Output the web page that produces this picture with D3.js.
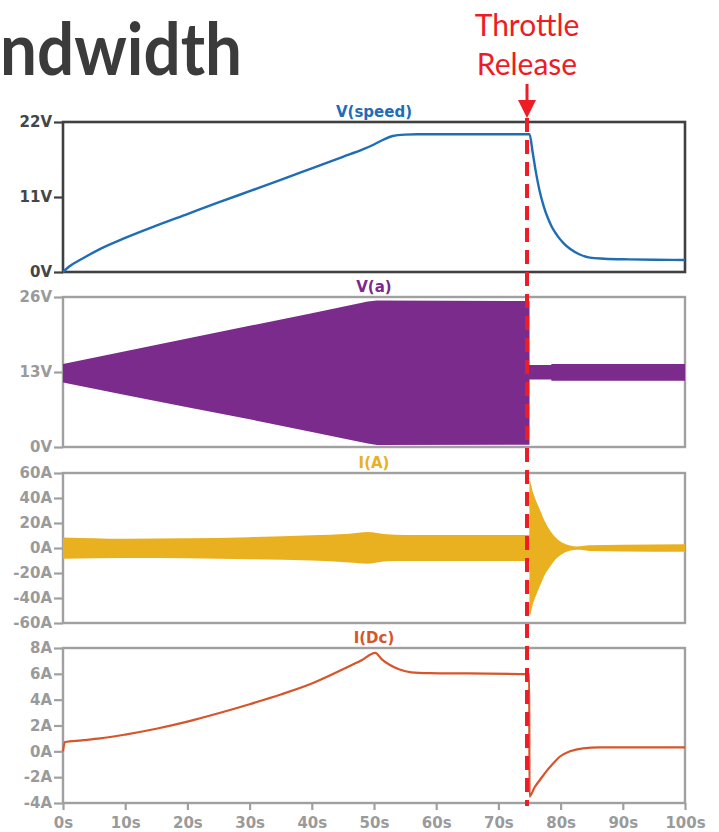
<!DOCTYPE html>
<html>
<head>
<meta charset="utf-8">
<script src="https://cdn.jsdelivr.net/npm/d3@7"></script>
<style>
  body { margin: 0; background: #ffffff; }
  svg text { font-family: "DejaVu Sans", Verdana, sans-serif; }
</style>
</head>
<body>
<svg id="chart" width="719" height="832"></svg>
<script>
// ---- data -------------------------------------------------------------
const timeTicks = [0, 10, 20, 30, 40, 50, 60, 70, 80, 90, 100];
const timeTickLabels = ["0s", "10s", "20s", "30s", "40s", "50s", "60s", "70s", "80s", "90s", "100s"];
const releaseTime = 74.6;

// V(speed)
const speedT = [0, 1, 3, 6, 10, 15, 20, 25, 30, 35, 40, 45, 48, 50, 51.5, 53, 55, 57, 75,
                75.5, 76, 76.6, 77.3, 78, 78.6, 79.5, 80.5, 81.5, 83, 84.7, 87, 91, 95, 100];
const speedV = [0, 0.8, 1.9, 3.4, 5.0, 6.8, 8.5, 10.2, 11.85, 13.5, 15.2, 16.9, 17.9, 18.7, 19.4, 19.95, 20.15, 20.2, 20.2,
                17.6, 14.8, 12.0, 9.6, 7.8, 6.6, 5.3, 4.2, 3.4, 2.6, 2.1, 1.95, 1.85, 1.8, 1.75];
const speedTicks = [0, 11, 22];
const speedTickLabels = ["0V", "11V", "22V"];

// V(a) envelope
const vaT  = [0, 10, 20, 30, 40, 49, 50.5, 75, 75.01, 78.5, 78.51, 100];
const vaHi = [14.4, 16.6, 18.8, 21.0, 23.2, 25.2, 25.4, 25.3, 14.2, 14.2, 14.4, 14.4];
const vaLo = [11.2, 9.0, 6.9, 4.8, 2.6, 0.6, 0.35, 0.4, 11.7, 11.7, 11.5, 11.5];
const vaTicks = [0, 13, 26];
const vaTickLabels = ["0V", "13V", "26V"];

// I(A) envelope
const iaT  = [0, 10, 20, 30, 40, 46, 49, 52, 55, 74.99, 75, 75.6, 76.2, 76.8, 77.5, 78.3, 79.2, 80.4, 81.5, 82.6, 83.5, 84.7, 90, 100];
const iaHi = [8.5, 7.5, 7.8, 8.7, 10.2, 11.5, 12.8, 11.0, 10.4, 10.4, 54, 44, 36, 29, 21, 14, 8.5, 4.0, 2.0, 1.2, 1.6, 2.2, 2.6, 3.0];
const iaLo = [-8.5, -8.0, -8.2, -9.0, -10.0, -11.5, -12.5, -10.5, -10.4, -10.4, -54, -44, -36, -29, -21, -15, -9, -4.3, -2.2, -1.3, -1.6, -2.3, -2.7, -3.0];
const iaTicks = [-60, -40, -20, 0, 20, 40, 60];
const iaTickLabels = ["-60A", "-40A", "-20A", "0A", "20A", "40A", "60A"];

// I(Dc)
const idcT = [0, 0.3, 3, 6, 10, 15, 20, 25, 30, 35, 40, 45, 48, 50.2, 51.3, 52.5, 54, 56, 59, 65, 74.95,
              75.0, 75.8, 76.7, 77.7, 78.8, 79.9, 81.5, 83.6, 86.3, 90, 100];
const idcV = [0, 0.72, 0.85, 1.0, 1.3, 1.75, 2.3, 2.95, 3.65, 4.4, 5.25, 6.35, 7.05, 7.63, 7.1, 6.7, 6.35, 6.12, 6.06, 6.03, 5.98,
              -3.5, -2.8, -2.2, -1.55, -0.95, -0.4, 0.0, 0.23, 0.3, 0.3, 0.3];
const idcTicks = [-4, -2, 0, 2, 4, 6, 8];
const idcTickLabels = ["-4A", "-2A", "0A", "2A", "4A", "6A", "8A"];

// ---- layout -------------------------------------------------------------
const svg = d3.select("#chart");
const x = d3.scaleLinear().domain([0, 100]).range([63, 685]);

const panels = [
  { title: "V(speed)", color: "#1f6db4", frame: "#404040", label: "#454545", top: 122, bottom: 272,
    domain: [0, 22], ticks: speedTicks, labels: speedTickLabels },
  { title: "V(a)", color: "#7b2b8b", frame: "#a0a0a0", label: "#9a9a9a", top: 297, bottom: 447,
    domain: [0, 26], ticks: vaTicks, labels: vaTickLabels },
  { title: "I(A)", color: "#e9b020", frame: "#a0a0a0", label: "#9a9a9a", top: 473, bottom: 623,
    domain: [-60, 60], ticks: iaTicks, labels: iaTickLabels },
  { title: "I(Dc)", color: "#d6552a", frame: "#a0a0a0", label: "#9a9a9a", top: 648, bottom: 803,
    domain: [-4, 8], ticks: idcTicks, labels: idcTickLabels }
];

panels.forEach(p => {
  p.y = d3.scaleLinear().domain(p.domain).range([p.bottom, p.top]);
});

// heading fragment
svg.append("text")
  .attr("x", 0).attr("y", 75)
  .attr("textLength", 242)
  .attr("lengthAdjust", "spacingAndGlyphs")
  .style("font-family", "Lato, 'Open Sans', sans-serif")
  .style("font-weight", 700)
  .style("font-size", "72px")
  .attr("fill", "#3b3b3b")
  .text("ndwidth");

// plot frames, axes and titles
const tickFont = "'DejaVu Sans', Verdana, sans-serif";
panels.forEach((p, i) => {
  const g = svg.append("g");

  const axis = d3.axisLeft(p.y)
    .tickValues(p.ticks)
    .tickFormat((d, k) => p.labels[k])
    .tickSize(9).tickPadding(2);
  const ag = g.append("g").attr("transform", `translate(${x(0)},0)`).call(axis);
  ag.select(".domain").remove();
  ag.selectAll(".tick line").attr("stroke", p.frame).attr("stroke-width", 2.2);
  ag.selectAll(".tick text")
    .attr("fill", p.label)
    .style("font-size", "15px")
    .style("font-weight", 700)
    .style("font-family", tickFont);

  g.append("rect")
    .attr("x", x(0)).attr("y", p.top)
    .attr("width", x(100) - x(0)).attr("height", p.bottom - p.top)
    .attr("fill", "none")
    .attr("stroke", p.frame)
    .attr("stroke-width", i === 0 ? 2.6 : 2.4);

  g.append("text")
    .attr("x", (x(0) + x(100)) / 2).attr("y", p.top - 5)
    .attr("text-anchor", "middle")
    .attr("fill", p.color)
    .style("font-size", "15px")
    .style("font-weight", 700)
    .text(p.title);
});

// time axis under the last panel
const last = panels[3];
const xAxis = d3.axisBottom(x)
  .tickValues(timeTicks)
  .tickFormat((d, k) => timeTickLabels[k])
  .tickSize(7).tickPadding(7);
const xg = svg.append("g").attr("transform", `translate(0,${last.bottom})`).call(xAxis);
xg.select(".domain").remove();
xg.selectAll(".tick line").attr("stroke", "#a0a0a0").attr("stroke-width", 2.2);
xg.selectAll(".tick text")
  .attr("fill", "#9a9a9a")
  .style("font-size", "15px")
  .style("font-weight", 700)
  .style("font-family", tickFont);

// ---- traces ------------------------------------------------------------
const P0 = panels[0], P1 = panels[1], P2 = panels[2], P3 = panels[3];

svg.append("path")
  .datum(d3.zip(speedT, speedV))
  .attr("fill", "none")
  .attr("stroke", P0.color)
  .attr("stroke-width", 2.4)
  .attr("stroke-linejoin", "round")
  .attr("d", d3.line().curve(d3.curveMonotoneX).x(d => x(d[0])).y(d => P0.y(d[1])));

svg.append("path")
  .datum(d3.zip(vaT, vaHi, vaLo))
  .attr("fill", P1.color)
  .attr("d", d3.area().x(d => x(d[0])).y0(d => P1.y(d[2])).y1(d => P1.y(d[1])));

svg.append("path")
  .datum(d3.zip(iaT, iaHi, iaLo))
  .attr("fill", P2.color)
  .attr("d", d3.area().curve(d3.curveMonotoneX).x(d => x(d[0])).y0(d => P2.y(d[2])).y1(d => P2.y(d[1])));

svg.append("path")
  .datum(d3.zip(idcT, idcV))
  .attr("fill", "none")
  .attr("stroke", P3.color)
  .attr("stroke-width", 2.2)
  .attr("stroke-linejoin", "round")
  .attr("d", d3.line().curve(d3.curveMonotoneX).x(d => x(d[0])).y(d => P3.y(d[1])));

// ---- throttle release marker -----------------------------------------------
const rx = x(releaseTime);
const red = "#ee1c25";

svg.append("line")
  .attr("x1", rx).attr("x2", rx)
  .attr("y1", 118).attr("y2", 806)
  .attr("stroke", red)
  .attr("stroke-width", 4)
  .attr("stroke-dasharray", "14,8");

svg.append("line")
  .attr("x1", rx).attr("x2", rx)
  .attr("y1", 84).attr("y2", 102)
  .attr("stroke", red)
  .attr("stroke-width", 3);

svg.append("path")
  .attr("d", `M${rx - 9},100 L${rx + 9},100 L${rx},118 Z`)
  .attr("fill", red);

const noteFont = "Lato, 'Open Sans', sans-serif";
svg.append("text")
  .attr("x", rx).attr("y", 36)
  .attr("text-anchor", "middle")
  .style("font-family", noteFont)
  .style("font-size", "30px")
  .attr("fill", red)
  .text("Throttle");
svg.append("text")
  .attr("x", rx).attr("y", 75)
  .attr("text-anchor", "middle")
  .style("font-family", noteFont)
  .style("font-size", "30px")
  .attr("fill", red)
  .text("Release");
</script>
</body>
</html>
